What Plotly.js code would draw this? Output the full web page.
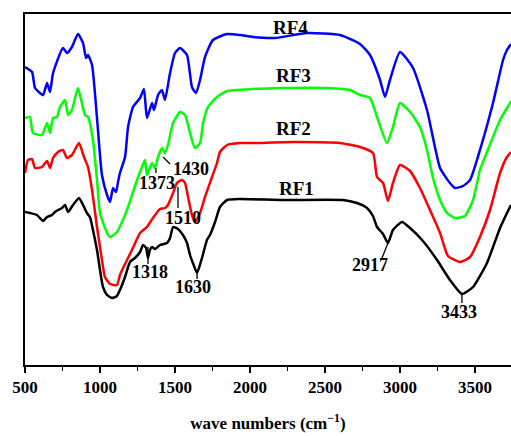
<!DOCTYPE html>
<html><head><meta charset="utf-8">
<script src="https://cdn.plot.ly/plotly-3.0.1.min.js"></script>
<style>html,body{margin:0;padding:0;background:#fff;}#chart{width:511px;height:436px;}</style>
</head><body><div id="chart"></div><script>
// Wavenumbers (cm^-1) and relative transmittance (arbitrary units)
const wn_rf4 = [500,547,567,620,647,667,687,753,780,813,853,887,907,920,947,980,1013,1047,1067,1087,1107,1120,1133,1167,1187,1220,1267,1293,1313,1347,1360,1387,1413,1433,1467,1500,1533,1580,1613,1640,1667,1700,1753,1847,1933,2020,2167,2380,2600,2733,2800,2867,2900,2933,3000,3087,3180,3267,3333,3367,3420,3467,3533,3620,3687,3713,3740];
const t_rf4 = [298,293,277,270,282,273,292,317,312,318,331,322,307,310,300,247,190,170,163,177,173,183,192,208,238,258,267,276,247,262,255,270,275,265,292,312,317,310,278,272,285,308,325,331,330,328,327,332,330,321,310,285,268,285,313,297,255,197,182,177,179,185,215,262,305,315,321];

const wn_rf3 = [500,533,553,613,647,667,687,713,733,767,787,813,853,900,920,953,980,1000,1047,1067,1113,1153,1187,1220,1247,1280,1300,1313,1347,1367,1387,1413,1433,1453,1487,1533,1567,1600,1633,1667,1687,1720,1780,1847,2020,2220,2513,2667,2733,2800,2847,2913,2953,3000,3067,3133,3180,3220,3267,3313,3367,3433,3487,3533,3580,3667,3733,3740];
const t_rf3 = [247,248,232,230,242,232,247,248,258,265,250,255,277,250,248,225,185,152,132,128,133,145,158,173,185,198,205,190,202,197,208,217,212,220,242,253,250,232,217,222,242,258,268,274,276,277,277,275,270,267,248,222,238,262,253,238,215,187,165,152,147,149,165,195,213,245,262,264];

const wn_rf2 = [500,520,547,567,613,647,667,687,720,753,780,813,860,893,920,947,980,1013,1033,1067,1113,1133,1180,1213,1267,1313,1353,1400,1433,1453,1487,1513,1547,1567,1587,1613,1633,1667,1700,1747,1780,1800,1847,1933,2020,2287,2600,2733,2820,2847,2887,2920,2953,3000,3067,3133,3200,3267,3320,3400,3467,3533,3600,3667,3713,3740];
const t_rf2 = [192,205,206,197,198,204,197,207,213,215,207,210,222,208,198,175,138,105,88,81,80,90,105,115,132,138,147,156,157,160,172,182,185,182,168,150,143,152,168,188,202,213,220,222,222,223,222,218,212,188,182,164,182,200,194,177,155,132,109,103,108,128,155,192,208,213];

const wn_rf1 = [500,533,580,620,647,680,700,720,747,767,787,820,860,887,913,933,953,980,1000,1020,1047,1080,1113,1133,1167,1200,1233,1267,1287,1307,1320,1333,1347,1367,1400,1447,1467,1487,1520,1553,1580,1600,1627,1647,1680,1713,1733,1767,1800,1847,1933,2220,2620,2713,2780,2820,2847,2887,2920,2953,3013,3067,3153,3247,3333,3413,3487,3580,3667,3733,3740];
const t_rf1 = [153,152,150,144,148,150,153,155,157,160,153,160,167,160,152,148,135,115,95,78,70,67,69,75,88,103,107,113,120,117,107,115,118,116,120,122,127,138,136,130,122,110,99,92,107,125,130,143,158,165,166,165,165,162,157,149,138,131,122,135,143,137,124,105,85,71,78,102,137,158,160];

const seriesNames = ['RF1','RF2','RF3','RF4'];
const seriesColors = ['#000000','#ff0000','#00ff00','#0000ff'];
const tickVals = [500,1000,1500,2000,2500,3000,3500];
const peakLabels = ['1318','1373','1430','1510','1630','2917','3433'];

const xs = [wn_rf1, wn_rf2, wn_rf3, wn_rf4];
const ys = [t_rf1, t_rf2, t_rf3, t_rf4];
const traces = xs.map((x, i) => ({
  x: x, y: ys[i], type: 'scatter', mode: 'lines', name: seriesNames[i],
  line: {color: seriesColors[i], width: 2.5, shape: 'spline', smoothing: 0.5},
  hoverinfo: 'skip'
}));

const F = {family: 'Liberation Serif, Times New Roman, serif', size: 18, color: '#000', weight: 'bold'};
function ann(text, x, y, size) {
  return {text: text, x: x, y: y, xref: 'x', yref: 'y', showarrow: false,
          xanchor: 'center', yanchor: 'middle', font: Object.assign({}, F, size ? {size: size} : {})};
}
const annotations = [
  ann(seriesNames[3], 2273, 338, 19),
  ann(seriesNames[2], 2287, 290, 19),
  ann(seriesNames[1], 2287, 237, 19),
  ann(seriesNames[0], 2313, 177, 19),
  ann(peakLabels[0], 1333, 93),
  ann(peakLabels[1], 1380, 182),
  ann(peakLabels[2], 1607, 196),
  ann(peakLabels[3], 1553, 147),
  ann(peakLabels[4], 1620, 78),
  ann(peakLabels[5], 2800, 100),
  ann(peakLabels[6], 3393, 53)
];
function seg(x0, y0, x1, y1) {
  return {type: 'line', xref: 'x', yref: 'y', x0: x0, y0: y0, x1: x1, y1: y1,
          line: {color: '#000', width: 1.3}};
}
const shapes = [
  seg(1320, 118, 1320, 101),
  seg(1373, 197, 1373, 192),
  seg(1420, 208, 1467, 201),
  seg(1520, 178, 1520, 157),
  seg(1647, 92, 1647, 86),
  seg(2920, 122, 2880, 107),
  seg(3413, 70, 3413, 62)
];

const layout = {
  width: 511, height: 436,
  margin: {l: 25, r: 0, t: 14, b: 71, pad: 0},
  paper_bgcolor: '#fff', plot_bgcolor: '#fff',
  showlegend: false,
  xaxis: {
    range: [500, 3740], tickmode: 'array', tickvals: tickVals, ticktext: tickVals.map(String),
    ticks: 'outside', ticklen: 6, tickwidth: 1.6, tickcolor: '#000',
    minor: {tickmode: 'array', tickvals: [750,1250,1750,2250,2750,3250,3750], ticks: 'outside', ticklen: 4, tickwidth: 1.6, tickcolor: '#000', showgrid: false},
    showline: true, linecolor: '#000', linewidth: 1.8, mirror: true,
    showgrid: false, zeroline: false,
    tickfont: {family: F.family, size: 17, color: '#000', weight: 'bold'},
    title: {text: 'wave numbers (cm<sup>−1</sup>)', font: {family: F.family, size: 17, color: '#000', weight: 'bold'}, standoff: 21},
    automargin: false
  },
  yaxis: {
    range: [0, 351], showline: true, linecolor: '#000', linewidth: 1.8, mirror: false,
    showticklabels: false, ticks: '', showgrid: false, zeroline: false, automargin: false
  },
  annotations: annotations,
  shapes: shapes
};
Plotly.newPlot('chart', traces, layout, {staticPlot: true, displayModeBar: false});
</script></body></html>
